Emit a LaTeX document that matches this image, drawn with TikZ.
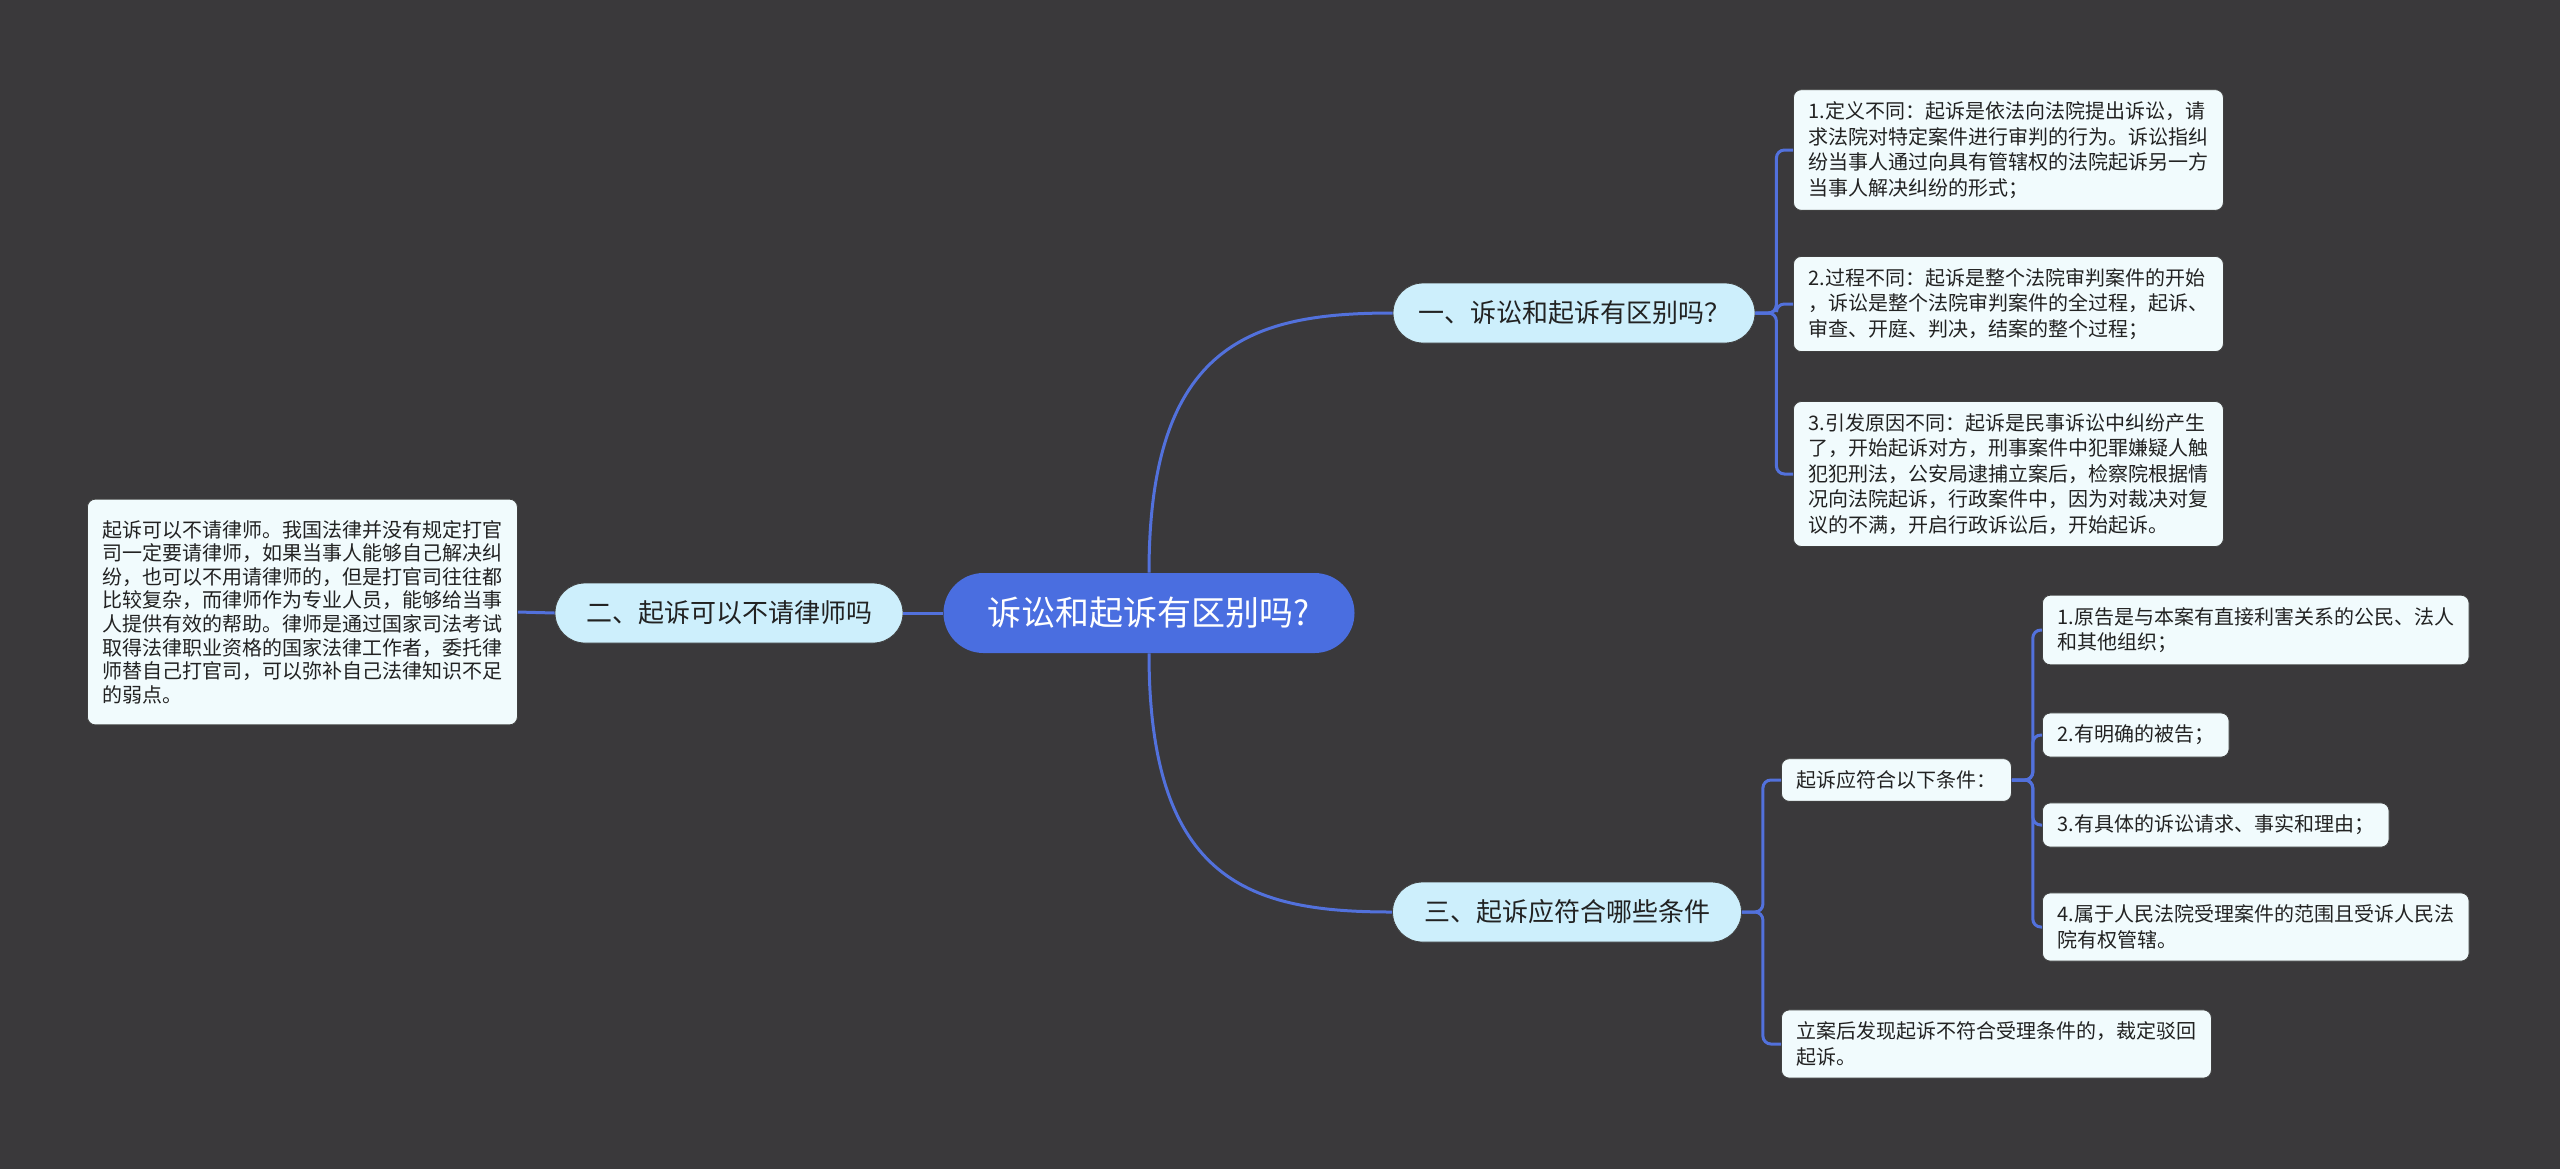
\documentclass[tikz,border=0pt]{standalone}
\usepackage{fontspec}
\setmainfont{Noto Sans CJK SC}
\usetikzlibrary{positioning}
\definecolor{mapbg}{HTML}{3A393B}
\definecolor{mapblue}{HTML}{4A6EE0}
\definecolor{mapline}{HTML}{5271DC}
\definecolor{topicfill}{HTML}{CDEFFC}
\definecolor{notefill}{HTML}{F1FBFD}
\definecolor{maptext}{HTML}{222222}
\tikzset{
  rootnode/.style={
    rounded corners=20pt,
    fill=mapblue,
    text=white,
    minimum width=205.5pt,
    minimum height=40pt,
    font=\fontsize{17}{20}\selectfont
  },
  topicnode/.style={
    rounded corners=15pt,
    fill=topicfill,
    draw=black!75,
    line width=0.4pt,
    minimum height=30pt,
    text=maptext,
    font=\fontsize{13}{16}\selectfont
  },
  notebox/.style={
    rounded corners=4pt,
    fill=notefill,
    draw=black!75,
    line width=0.4pt,
    align=left,
    inner xsep=7.5pt,
    inner ysep=6pt,
    anchor=west,
    text=maptext,
    font=\fontsize{10}{12.75}\selectfont
  },
  branch/.style={
    draw=mapline,
    line width=1.5pt
  },
  elbow/.style={
    branch,
    rounded corners=4pt
  }
}

\begin{document}
\begin{tikzpicture}[x=0.5pt,y=-0.5pt]
\useasboundingbox (0,0) rectangle (2560,1169);
\fill[mapbg] (0,0) rectangle (2560,1169);

% main topics
\node[rootnode] (root) at (1149,613) {诉讼和起诉有区别吗?};
\node[topicnode, minimum width=181pt] (diff) at (1574,313) {一、诉讼和起诉有区别吗？};
\node[topicnode, minimum width=174pt] (lawyer) at (729,613) {二、起诉可以不请律师吗};
\node[topicnode, minimum width=174.5pt] (cond) at (1567,912) {三、起诉应符合哪些条件};

% notes
\node[notebox, inner ysep=10.5pt, font=\fontsize{10}{11.8}\selectfont] (lawyernote) at (87,612) {起诉可以不请律师。我国法律并没有规定打官\\司一定要请律师，如果当事人能够自己解决纠\\纷，也可以不用请律师的，但是打官司往往都\\比较复杂，而律师作为专业人员，能够给当事\\人提供有效的帮助。律师是通过国家司法考试\\取得法律职业资格的国家法律工作者，委托律\\师替自己打官司，可以弥补自己法律知识不足\\的弱点。};
\node[notebox] (define) at (1793,150) {1.定义不同：起诉是依法向法院提出诉讼，请\\求法院对特定案件进行审判的行为。诉讼指纠\\纷当事人通过向具有管辖权的法院起诉另一方\\当事人解决纠纷的形式；};
\node[notebox] (process) at (1793,304) {2.过程不同：起诉是整个法院审判案件的开始\\，诉讼是整个法院审判案件的全过程，起诉、\\审查、开庭、判决，结案的整个过程；};
\node[notebox] (cause) at (1793,474) {3.引发原因不同：起诉是民事诉讼中纠纷产生\\了，开始起诉对方，刑事案件中犯罪嫌疑人触\\犯犯刑法，公安局逮捕立案后，检察院根据情\\况向法院起诉，行政案件中，因为对裁决对复\\议的不满，开启行政诉讼后，开始起诉。};
\node[notebox] (terms) at (1781,780) {起诉应符合以下条件：};
\node[notebox] (reject) at (1781,1044) {立案后发现起诉不符合受理条件的，裁定驳回\\起诉。};
\node[notebox] (plaintiff) at (2042,630) {1.原告是与本案有直接利害关系的公民、法人\\和其他组织；};
\node[notebox] (defendant) at (2042,735) {2.有明确的被告；};
\node[notebox] (claim) at (2042,825) {3.有具体的诉讼请求、事实和理由；};
\node[notebox] (court) at (2042,927) {4.属于人民法院受理案件的范围且受诉人民法\\院有权管辖。};

% connectors
\draw[branch] (root.north) .. controls +(0,-230) and +(-140,0) .. (diff.west);
\draw[branch] (root.south) .. controls +(0,230) and +(-140,0) .. (cond.west);
\draw[branch] (root.west) -- (lawyer.east);
\draw[branch] (lawyer.west) -- (lawyernote.east);
\foreach \kid in {define,process,cause}
  \draw[elbow] (diff.east) -- ++(21,0) |- (\kid.west);
\foreach \kid in {terms,reject}
  \draw[elbow] (cond.east) -- ++(21,0) |- (\kid.west);
\foreach \kid in {plaintiff,defendant,claim,court}
  \draw[elbow] (terms.east) -- ++(21,0) |- (\kid.west);
\end{tikzpicture}
\end{document}
